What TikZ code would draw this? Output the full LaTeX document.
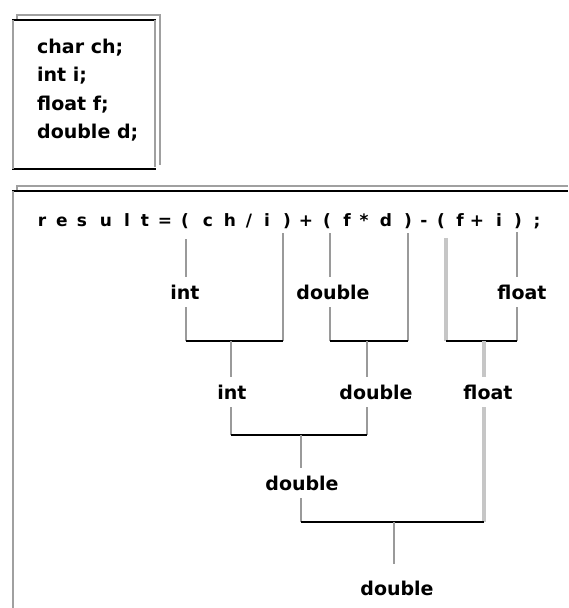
\documentclass[tikz,border=0pt]{standalone}
\usepackage{fontspec}
\newfontfamily\dv{DejaVu Sans}
\definecolor{stemc}{HTML}{9A9A9A}
\definecolor{lightc}{HTML}{C6C6C6}
\definecolor{framec}{HTML}{A0A0A0}
\begin{document}
\begin{tikzpicture}[x=1pt,y=-1pt,
  lab/.style={font=\dv\bfseries\fontsize{19}{19}\selectfont, inner xsep=0pt, inner ysep=8pt, text height=14pt, text depth=0pt, anchor=base},
  ex/.style={font=\dv\bfseries\fontsize{17}{17}\selectfont, inner sep=0pt, anchor=base},
  decl/.style={font=\dv\bfseries\fontsize{19}{19}\selectfont, inner sep=0pt, anchor=base west},
  stem/.style={draw=stemc, line width=2pt},
  light/.style={draw=lightc, line width=3.5pt},
  bar/.style={draw=black, line width=1.2pt},
  backl/.style={draw=framec, line width=2pt},
  frontdark/.style={draw=black, line width=1.3pt},
  frontgray/.style={draw=framec, line width=2pt}]
\useasboundingbox (0,0) rectangle (568,608);
\fill[white] (0,0) rectangle (568,608);

% declaration panel
\draw[backl] (17,21) -- (17,15) -- (160,15) -- (160,165);
\fill[white] (12,20) rectangle (156,169);
\draw[frontdark] (12,20) -- (156,20);
\draw[frontdark] (12,169) -- (156,169);
\draw[frontgray] (12.5,20) -- (12.5,169);
\draw[frontgray] (154.5,20) -- (154.5,167);
\node[decl] (dc) at (37,53) {char ch;};
\node[decl] (di) at (37,81.5) {int i;};
\node[decl] (df) at (37,110) {float f;};
\node[decl] (dd) at (37,138) {double d;};

% expression panel
\draw[backl] (17,192) -- (17,186) -- (568,186);
\draw[frontdark] (12,191) -- (568,191);
\draw[frontgray] (12.5,191) -- (12.5,608);

\foreach \x/\c [count=\k] in {42/r,62/e,82/s,106/u,127/l,145/t,165/{=},185/{(},208/c,230/h,249/{/},267/i,287/{)},306/{+},327/{(},347/f,364/{*},386/d,408/{)},424/{-},441/{(},460/f,477/{+},499/i,518/{)},537/{;}}
  \node[ex] (x\k) at (\x,226) {\c};

% labels
\node[lab] (i1) at (185,299) {int};
\node[lab] (d1) at (333,299) {double};
\node[lab] (f1) at (522,299) {float};
\node[lab] (i2) at (232,399) {int};
\node[lab] (d2) at (376,399) {double};
\node[lab] (f2) at (488,399) {float};
\node[lab] (d3) at (302,490) {double};
\node[lab] (d4) at (397,595) {double};

% level 1
\coordinate (tA) at (186,239); \coordinate (bA) at (186,341);
\coordinate (tB) at (283,233); \coordinate (bB) at (283,341);
\coordinate (tC) at (330,233); \coordinate (bC) at (330,341);
\coordinate (tD) at (408,233); \coordinate (bD) at (408,341);
\coordinate (tE) at (446,238); \coordinate (bE) at (446,341);
\coordinate (tF) at (517,232); \coordinate (bF) at (517,341);
\draw[stem] (tA) -- (tA |- i1.north);
\draw[stem] (tA |- i1.south) -- (bA);
\draw[stem] (tB) -- (bB);
\draw[stem] (tC) -- (tC |- d1.north);
\draw[stem] (tC |- d1.south) -- (bC);
\draw[stem] (tD) -- (bD);
\draw[light] (tE) -- (bE);
\draw[stem] (tF) -- (tF |- f1.north);
\draw[stem] (tF |- f1.south) -- (bF);
\draw[bar] (bA) -- (bB);
\draw[bar] (bC) -- (bD);
\draw[bar] (bE) -- (bF);

% level 2
\coordinate (m1) at (231,341); \coordinate (b1) at (231,435);
\coordinate (m2) at (367,341); \coordinate (b2) at (367,435);
\coordinate (m3) at (484,341); \coordinate (b3) at (484,522);
\draw[stem] (m1) -- (m1 |- i2.north);
\draw[stem] (m1 |- i2.south) -- (b1);
\draw[stem] (m2) -- (m2 |- d2.north);
\draw[stem] (m2 |- d2.south) -- (b2);
\draw[light] (m3) -- (m3 |- f2.north);
\draw[light] (m3 |- f2.south) -- (b3);
\draw[bar] (b1) -- (b2);

% level 3
\coordinate (m4) at (301,435); \coordinate (b4) at (301,522);
\draw[stem] (m4) -- (m4 |- d3.north);
\draw[stem] (m4 |- d3.south) -- (b4);
\draw[bar] (b4) -- (b3);

% result
\coordinate (m5) at (394,522); \coordinate (e5) at (394,564);
\draw[stem] (m5) -- (e5);
\end{tikzpicture}
\end{document}
